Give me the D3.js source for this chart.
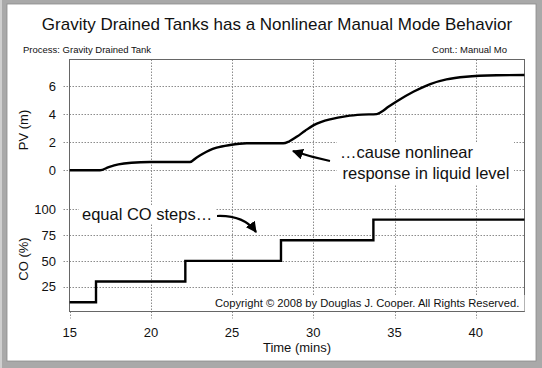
<!DOCTYPE html>
<html>
<head>
<meta charset="utf-8">
<script src="https://cdn.jsdelivr.net/npm/d3@7"></script>
<style>
  html, body { margin: 0; padding: 0; background: #fff; }
  svg { display: block; }
  text { font-family: Arial, "Liberation Sans", sans-serif; fill: #111; }
</style>
</head>
<body>
<script>
// ---------- data ----------
const timeTicks = [15, 20, 25, 30, 35, 40];
const pvTicks = [0, 2, 4, 6];
const coTicks = [25, 50, 75, 100];

const pvTime   = [15, 16.87, 17.4, 18.0, 18.8, 19.94, 22.4, 22.8, 23.2, 23.6, 24.05, 24.87, 25.9, 28.15, 28.5, 29.0, 29.5, 30.0, 30.5, 31.03, 32.06, 33.0, 33.9, 34.2, 34.6, 35.1, 36.16, 37.2, 38.2, 39.4, 41.3, 43.0];
const pvValues = [0, 0, 0.22, 0.42, 0.54, 0.59, 0.59, 0.9, 1.18, 1.42, 1.61, 1.80, 1.92, 1.92, 2.05, 2.4, 2.82, 3.2, 3.45, 3.63, 3.86, 3.96, 4.0, 4.17, 4.5, 4.88, 5.59, 6.14, 6.47, 6.66, 6.76, 6.78];

const coTimes  = [15, 16.62, 22.12, 28.01, 33.7, 43.0];
const coValues = [10, 30, 50, 70, 90, 90];

const title = "Gravity Drained Tanks has a Nonlinear Manual Mode Behavior";
const processLabel = "Process: Gravity Drained Tank";
const contLabel = "Cont.: Manual Mo";
const copyright = "Copyright \u00A9 2008 by Douglas J. Cooper. All Rights Reserved.";

// ---------- layout ----------
const W = 542, H = 368;
const plot = { left: 69.5, right: 524.5, top: 59.5, bottom: 311.5 };

const x = d3.scaleLinear().domain([15, 40]).range([69.7, 475.7]);
const yPV = d3.scaleLinear().domain([0, 6]).range([170.3, 86]);
const yCO = d3.scaleLinear().domain([0, 100]).range([312.5, 209.3]);

const svg = d3.select("body").append("svg").attr("width", W).attr("height", H);

// frame
svg.append("rect").attr("x", 0).attr("y", 0).attr("width", W).attr("height", H).attr("fill", "#a9a9a9");
svg.append("rect").attr("x", 0).attr("y", 0).attr("width", 2).attr("height", H).attr("fill", "#cfcfcf");
svg.append("rect").attr("x", 7).attr("y", 4).attr("width", 529).attr("height", 357).attr("fill", "#fff")
  .attr("stroke", "#8a8a8a").attr("stroke-width", 0.8);

// title & header
svg.append("text").attr("x", 277).attr("y", 30).attr("text-anchor", "middle")
  .style("font-size", "17px").text(title);
svg.append("text").attr("x", 23).attr("y", 52.5).style("font-size", "9.5px").text(processLabel);
svg.append("text").attr("x", 507).attr("y", 52.5).attr("text-anchor", "end").style("font-size", "9.5px").text(contLabel);

const grid = svg.append("g").attr("stroke", "#8c8c8c").attr("stroke-width", 1).attr("stroke-dasharray", "1.5,1.5").attr("fill", "none");

// vertical gridlines + ticks below
grid.selectAll("line.vx").data(timeTicks).join("line")
  .attr("x1", d => Math.round(x(d)) + 0.5).attr("x2", d => Math.round(x(d)) + 0.5)
  .attr("y1", d => d === 15 ? plot.bottom : plot.top).attr("y2", plot.bottom + 7);

// horizontal gridlines PV
grid.selectAll("line.hp").data(pvTicks).join("line")
  .attr("x1", plot.left - 6).attr("x2", plot.right)
  .attr("y1", d => Math.round(yPV(d)) + 0.5).attr("y2", d => Math.round(yPV(d)) + 0.5);
// horizontal gridlines CO
grid.selectAll("line.hc").data(coTicks).join("line")
  .attr("x1", plot.left - 6).attr("x2", plot.right)
  .attr("y1", d => Math.round(yCO(d)) + 0.5).attr("y2", d => Math.round(yCO(d)) + 0.5);

// plot box
svg.append("rect").attr("x", plot.left).attr("y", plot.top)
  .attr("width", plot.right - plot.left).attr("height", plot.bottom - plot.top)
  .attr("fill", "none").attr("stroke", "#666").attr("stroke-width", 1);

// tick labels
svg.selectAll("text.xt").data(timeTicks).join("text")
  .attr("x", d => x(d)).attr("y", 336.5).attr("text-anchor", "middle")
  .style("font-size", "13px").text(d => d);
svg.selectAll("text.yp").data(pvTicks).join("text")
  .attr("x", 56).attr("y", d => yPV(d) + 4.6).attr("text-anchor", "end")
  .style("font-size", "13px").text(d => d);
svg.selectAll("text.yc").data(coTicks).join("text")
  .attr("x", 56).attr("y", d => yCO(d) + 4.6).attr("text-anchor", "end")
  .style("font-size", "13px").text(d => d);

// axis titles
svg.append("text").attr("transform", "translate(27.5,130) rotate(-90)").attr("text-anchor", "middle")
  .style("font-size", "13px").text("PV (m)");
svg.append("text").attr("transform", "translate(27.5,259) rotate(-90)").attr("text-anchor", "middle")
  .style("font-size", "13px").text("CO (%)");
svg.append("text").attr("x", 297).attr("y", 352).attr("text-anchor", "middle")
  .style("font-size", "13px").text("Time (mins)");

// copyright box
svg.append("rect").attr("x", 212).attr("y", 295).attr("width", plot.right - 212).attr("height", plot.bottom - 295)
  .attr("fill", "#fff");
svg.append("line").attr("x1", 212).attr("x2", plot.right).attr("y1", plot.bottom).attr("y2", plot.bottom).attr("stroke", "#666");
svg.append("text").attr("x", 215).attr("y", 306.5).style("font-size", "11.2px").text(copyright);

// data lines
const pvData = pvTime.map((t, i) => [t, pvValues[i]]);
const coData = coTimes.map((t, i) => [t, coValues[i]]);

svg.append("path").datum(pvData)
  .attr("d", d3.line().x(d => x(d[0])).y(d => yPV(d[1])).curve(d3.curveMonotoneX))
  .attr("fill", "none").attr("stroke", "#000").attr("stroke-width", 2.4);

svg.append("path").datum(coData)
  .attr("d", d3.line().x(d => x(d[0])).y(d => yCO(d[1])).curve(d3.curveStepAfter))
  .attr("fill", "none").attr("stroke", "#000").attr("stroke-width", 2.4);

// annotations
const defs = svg.append("defs");
defs.append("marker").attr("id", "ah").attr("viewBox", "0 0 10 10").attr("refX", 9).attr("refY", 5)
  .attr("markerWidth", 5).attr("markerHeight", 5).attr("orient", "auto").attr("markerUnits", "strokeWidth")
  .append("path").attr("d", "M0,0 L10,5 L0,10 Z").attr("fill", "#000");

svg.append("rect").attr("x", 79).attr("y", 205).attr("width", 137).attr("height", 19).attr("fill", "#fff");
svg.append("text").attr("x", 82).attr("y", 220).style("font-size", "16.5px").text("equal CO steps\u2026");

svg.append("rect").attr("x", 337).attr("y", 142).attr("width", 177).attr("height", 42).attr("fill", "#fff");
svg.append("text").attr("x", 340).attr("y", 158).style("font-size", "16.5px").text("\u2026cause nonlinear");
svg.append("text").attr("x", 342.5).attr("y", 178.5).style("font-size", "16.5px").text("response in liquid level");

svg.append("path").attr("d", "M217,216 Q244,215 256,232")
  .attr("fill", "none").attr("stroke", "#000").attr("stroke-width", 2.2).attr("marker-end", "url(#ah)");
svg.append("path").attr("d", "M330,161 Q311,157 293,151")
  .attr("fill", "none").attr("stroke", "#000").attr("stroke-width", 2.2).attr("marker-end", "url(#ah)");
</script>
</body>
</html>
